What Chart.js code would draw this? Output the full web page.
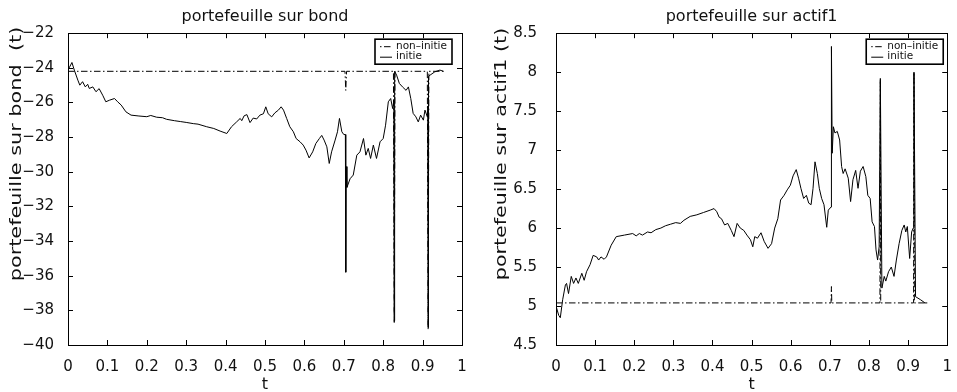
<!DOCTYPE html>
<html>
<head>
<meta charset="utf-8">
<script src="https://cdn.jsdelivr.net/npm/chart.js@4.4.1/dist/chart.umd.min.js"></script>
<style>
  html, body { margin: 0; padding: 0; background: #fff; }
  #wrap { position: relative; width: 957px; height: 392px; overflow: hidden; }
  canvas { position: absolute; top: 0; }
</style>
</head>
<body>
<div id="wrap">
  <canvas id="bond" width="478" height="392" style="left:0"></canvas>
  <canvas id="actif" width="479" height="392" style="left:478px"></canvas>
</div>
<script>
// ---- tick labels ----
const tTicks = [0, 0.1, 0.2, 0.3, 0.4, 0.5, 0.6, 0.7, 0.8, 0.9, 1];
const bondTicks = [-22, -24, -26, -28, -30, -32, -34, -36, -38, -40];
const actifTicks = [8.5, 8, 7.5, 7, 6.5, 6, 5.5, 5, 4.5];

// ---- series names ----
const seriesNames = ['non\u2013initie', 'initie'];

// ---- portefeuille sur bond ----
const tBondNonInitie = [0, 0.703, 0.705, 0.707, 0.826, 0.828, 0.830, 0.912, 0.914, 0.916, 0.953];
const bondNonInitie  = [-24.2, -24.2, -25.3, -24.2, -24.2, -38.7, -24.2, -24.2, -39.1, -24.2, -24.2];

const tBondInitie = [
  0.000, 0.003, 0.010, 0.016, 0.025, 0.030, 0.037, 0.044, 0.050, 0.054,
  0.063, 0.071, 0.079, 0.088, 0.096, 0.105, 0.118, 0.126, 0.135, 0.147,
  0.160, 0.180, 0.200, 0.210, 0.225, 0.240, 0.250, 0.270, 0.285, 0.300,
  0.318, 0.330, 0.352, 0.370, 0.386, 0.403, 0.415, 0.428, 0.437, 0.441,
  0.447, 0.454, 0.462, 0.470, 0.479, 0.487, 0.496, 0.502, 0.508, 0.517,
  0.525, 0.534, 0.541, 0.547, 0.555, 0.563, 0.572, 0.579, 0.589, 0.597,
  0.604, 0.612, 0.621, 0.629, 0.638, 0.644, 0.650, 0.657, 0.663, 0.669,
  0.678, 0.684, 0.689, 0.695, 0.700, 0.704, 0.705, 0.706, 0.708, 0.716,
  0.724, 0.733, 0.741, 0.750, 0.756, 0.762, 0.768, 0.775, 0.783, 0.792,
  0.800, 0.806, 0.813, 0.819, 0.824, 0.827, 0.828, 0.829, 0.834, 0.841,
  0.849, 0.858, 0.864, 0.870, 0.876, 0.883, 0.889, 0.895, 0.902, 0.906,
  0.912, 0.913, 0.914, 0.915, 0.919, 0.931, 0.944, 0.953
];
const bondInitie = [
  -24.10, -24.00, -23.69, -24.13, -24.71, -25.00, -24.80, -25.10, -24.95, -25.19,
  -25.10, -25.38, -25.20, -25.58, -25.96, -25.87, -25.77, -25.96, -26.15, -26.54,
  -26.73, -26.78, -26.82, -26.75, -26.85, -26.88, -26.97, -27.05, -27.10, -27.15,
  -27.22, -27.25, -27.40, -27.50, -27.65, -27.79, -27.40, -27.12, -26.92, -27.05,
  -26.77, -26.70, -27.16, -26.90, -26.95, -26.73, -26.65, -26.25, -26.65, -26.83,
  -26.60, -26.44, -26.25, -26.44, -26.92, -27.40, -27.69, -28.08, -28.27, -28.46,
  -28.75, -29.20, -28.85, -28.37, -28.08, -27.90, -28.17, -28.56, -29.52, -28.85,
  -28.17, -27.69, -26.92, -27.69, -27.85, -27.85, -35.80, -29.70, -30.90, -30.40,
  -30.19, -29.04, -28.85, -28.08, -29.04, -28.65, -29.23, -28.46, -29.23, -28.27,
  -28.08, -27.31, -25.96, -25.77, -26.35, -25.90, -38.60, -24.20, -24.42, -24.90,
  -25.10, -25.30, -25.10, -25.77, -26.63, -26.83, -27.12, -26.73, -27.02, -26.44,
  -26.83, -26.20, -39.00, -24.50, -24.42, -24.23, -24.13, -24.20
];

// ---- portefeuille sur actif1 ----
const tActifNonInitie = [0, 0.703, 0.704, 0.705, 0.828, 0.829, 0.830, 0.914, 0.915, 0.916, 0.949];
const actifNonInitie  = [5.04, 5.04, 5.25, 5.04, 5.04, 7.90, 5.04, 5.04, 8.00, 5.04, 5.04];

const tActifInitie = [
  0.000, 0.007, 0.011, 0.017, 0.024, 0.027, 0.032, 0.039, 0.045, 0.051,
  0.057, 0.066, 0.072, 0.078, 0.087, 0.095, 0.104, 0.109, 0.115, 0.123,
  0.129, 0.141, 0.154, 0.175, 0.196, 0.205, 0.213, 0.221, 0.234, 0.243,
  0.255, 0.268, 0.280, 0.293, 0.306, 0.318, 0.327, 0.343, 0.360, 0.377,
  0.394, 0.404, 0.411, 0.417, 0.423, 0.431, 0.439, 0.448, 0.455, 0.463,
  0.471, 0.480, 0.488, 0.497, 0.503, 0.508, 0.515, 0.524, 0.532, 0.542,
  0.551, 0.559, 0.567, 0.574, 0.583, 0.591, 0.599, 0.606, 0.614, 0.620,
  0.626, 0.633, 0.640, 0.646, 0.652, 0.657, 0.662, 0.668, 0.673, 0.679,
  0.685, 0.692, 0.696, 0.703, 0.704, 0.706, 0.709, 0.713, 0.719, 0.725,
  0.730, 0.734, 0.739, 0.747, 0.753, 0.759, 0.766, 0.772, 0.778, 0.785,
  0.792, 0.797, 0.803, 0.808, 0.814, 0.818, 0.822, 0.826, 0.829, 0.833,
  0.839, 0.843, 0.850, 0.857, 0.864, 0.870, 0.877, 0.884, 0.890, 0.894,
  0.898, 0.904, 0.909, 0.913, 0.915, 0.919, 0.932, 0.943, 0.949
];
const actifInitie = [
  5.00, 4.88, 4.85, 5.08, 5.27, 5.29, 5.16, 5.38, 5.29, 5.36,
  5.29, 5.42, 5.33, 5.44, 5.53, 5.65, 5.63, 5.59, 5.63, 5.60,
  5.63, 5.78, 5.89, 5.91, 5.93, 5.90, 5.93, 5.91, 5.95, 5.94,
  5.98, 6.00, 6.03, 6.05, 6.07, 6.06, 6.10, 6.15, 6.17, 6.20,
  6.23, 6.25, 6.21, 6.14, 6.12, 6.04, 6.06, 5.97, 5.89, 6.06,
  6.00, 5.97, 5.91, 5.85, 5.76, 5.89, 5.87, 5.94, 5.83, 5.74,
  5.80, 6.00, 6.12, 6.36, 6.42, 6.49, 6.55, 6.67, 6.75, 6.64,
  6.51, 6.38, 6.42, 6.32, 6.30, 6.51, 6.85, 6.70, 6.51, 6.38,
  6.30, 6.01, 6.23, 6.27, 8.33, 6.96, 7.30, 7.22, 7.24, 7.13,
  6.79, 6.70, 6.76, 6.64, 6.34, 6.62, 6.74, 6.51, 6.73, 6.79,
  6.66, 6.42, 6.38, 6.08, 6.02, 5.72, 5.59, 5.76, 7.92, 5.23,
  5.38, 5.32, 5.44, 5.50, 5.38, 5.59, 5.80, 5.97, 6.04, 5.95,
  6.02, 5.61, 5.95, 6.00, 8.00, 5.12, 5.08, 5.04, 5.04
];

// ---- shared styling ----
const FONT = '"DejaVu Sans", "Liberation Sans", Arial, sans-serif';
const INK = '#111';
const DASH_DOT = [6.5, 2.5, 1.5, 2.5];

function points(ts, vs) {
  return ts.map((t, i) => ({ x: t, y: vs[i] }));
}
function fixedTicks(values) {
  return scale => { scale.ticks = values.map(v => ({ value: v })); };
}
const minusFmt = v => (v < 0 ? '\u2212' : '') + String(Math.abs(v));

// box around the axes, inward tick marks on all four sides,
// rotated y label and the boxed legend
const framePlugin = {
  id: 'frame',
  afterDraw(chart, args, opts) {
    const ctx = chart.ctx;
    const a = chart.chartArea;
    const xs = chart.scales.x, ys = chart.scales.y;
    const len = 5;
    ctx.save();
    ctx.strokeStyle = '#000';
    ctx.lineWidth = 1;
    ctx.strokeRect(Math.round(a.left) + 0.5, Math.round(a.top) + 0.5,
                   Math.round(a.right - a.left), Math.round(a.bottom - a.top));
    ctx.beginPath();
    xs.ticks.forEach(tk => {
      const px = Math.round(xs.getPixelForValue(tk.value)) + 0.5;
      ctx.moveTo(px, a.bottom); ctx.lineTo(px, a.bottom - len);
      ctx.moveTo(px, a.top); ctx.lineTo(px, a.top + len);
    });
    ys.ticks.forEach(tk => {
      const py = Math.round(ys.getPixelForValue(tk.value)) + 0.5;
      ctx.moveTo(a.left, py); ctx.lineTo(a.left + len, py);
      ctx.moveTo(a.right, py); ctx.lineTo(a.right - len, py);
    });
    ctx.stroke();

    // y axis label, drawn elongated along its reading direction
    ctx.save();
    ctx.translate(opts.labelX, opts.labelY);
    ctx.rotate(-Math.PI / 2);
    ctx.scale(opts.labelStretch, 1);
    ctx.font = '16px ' + FONT;
    ctx.fillStyle = INK;
    ctx.textAlign = 'center';
    ctx.textBaseline = 'middle';
    ctx.fillText(opts.yLabel, 0, 0);
    ctx.restore();

    // legend
    const bx = a.right - opts.legendRight - 77, by = a.top + 6, bw = 77, bh = 25;
    ctx.fillStyle = '#fff';
    ctx.fillRect(bx, by, bw, bh);
    ctx.lineWidth = 1.6;
    ctx.strokeStyle = '#000';
    ctx.strokeRect(bx, by, bw, bh);
    ctx.font = '10.5px ' + FONT;
    ctx.textBaseline = 'middle';
    ctx.textAlign = 'left';
    chart.data.datasets.forEach((ds, i) => {
      const ry = by + 7 + i * 10.5;
      ctx.beginPath();
      ctx.lineWidth = 1;
      ctx.setLineDash(ds.borderDash ? [1.5, 2.5, 6.5, 2.5] : []);
      ctx.moveTo(bx + 5, ry + 0.5);
      ctx.lineTo(bx + 17, ry + 0.5);
      ctx.stroke();
      ctx.setLineDash([]);
      ctx.fillStyle = INK;
      ctx.fillText(ds.label, bx + 21, ry);
    });
    ctx.restore();
  }
};

function makeChart(id, cfg) {
  return new Chart(document.getElementById(id), {
    type: 'scatter',
    data: {
      datasets: [
        { label: seriesNames[0], data: points(cfg.tNon, cfg.non), showLine: true,
          borderColor: '#000', borderWidth: 1, borderDash: DASH_DOT, pointRadius: 0, tension: 0 },
        { label: seriesNames[1], data: points(cfg.tIn, cfg.ini), showLine: true,
          borderColor: '#000', borderWidth: 1, pointRadius: 0, tension: 0 }
      ]
    },
    options: {
      responsive: false,
      animation: false,
      devicePixelRatio: 1,
      layout: { padding: { left: 0, right: cfg.padRight, top: 0, bottom: 0 } },
      plugins: {
        legend: { display: false },
        tooltip: { enabled: false },
        title: {
          display: true, text: cfg.title, fullSize: false, color: INK,
          font: { family: FONT, size: 16, weight: 'normal', lineHeight: 1.2 },
          padding: { top: 7, bottom: 7 }
        },
        frame: {
          yLabel: cfg.yLabel, labelX: cfg.labelX, labelY: 154,
          labelStretch: cfg.labelStretch, legendRight: cfg.legendRight
        }
      },
      scales: {
        x: {
          type: 'linear', min: 0, max: 1,
          afterBuildTicks: fixedTicks(tTicks),
          afterFit: s => { s.height = 47; },
          grid: { display: false },
          border: { display: false },
          ticks: {
            color: INK, font: { family: FONT, size: 15 }, padding: 5,
            maxRotation: 0, autoSkip: false,
            callback: v => String(Math.round(v * 10) / 10)
          },
          title: { display: true, text: 't', color: INK, padding: { top: 0, bottom: -1 },
                   font: { family: FONT, size: 16, lineHeight: 1 } }
        },
        y: {
          type: 'linear', min: cfg.yMin, max: cfg.yMax,
          afterBuildTicks: fixedTicks(cfg.yTicks),
          afterFit: s => { s.width = cfg.yWidth; },
          grid: { display: false },
          border: { display: false },
          ticks: {
            color: INK, font: { family: FONT, size: 15 }, padding: cfg.yPad,
            autoSkip: false, callback: minusFmt
          }
        }
      }
    },
    plugins: [framePlugin]
  });
}

makeChart('bond', {
  title: 'portefeuille sur bond',
  yLabel: 'portefeuille sur bond  (t)',
  tNon: tBondNonInitie, non: bondNonInitie,
  tIn: tBondInitie, ini: bondInitie,
  yMin: -40, yMax: -22, yTicks: bondTicks,
  yWidth: 68, yPad: 6, padRight: 16,
  labelX: 17, labelStretch: 1.3, legendRight: 10
});

makeChart('actif', {
  title: 'portefeuille sur actif1',
  yLabel: 'portefeuille sur actif1 (t)',
  tNon: tActifNonInitie, non: actifNonInitie,
  tIn: tActifInitie, ini: actifInitie,
  yMin: 4.5, yMax: 8.5, yTicks: actifTicks,
  yWidth: 78, yPad: 11, padRight: 5,
  labelX: 24, labelStretch: 1.29, legendRight: 4
});
</script>
</body>
</html>
